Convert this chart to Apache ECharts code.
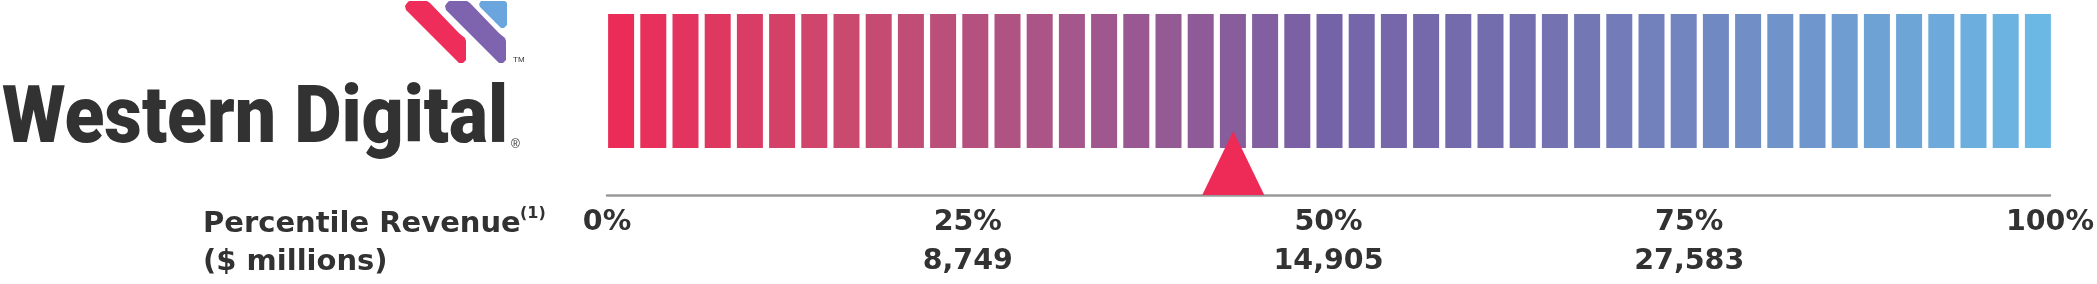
<!DOCTYPE html>
<html>
<head>
<meta charset="utf-8">
<script src="https://cdn.jsdelivr.net/npm/echarts@6/dist/echarts.min.js"></script>
<style>
html,body{margin:0;padding:0;background:#ffffff;}
#chart{width:2097px;height:284px;}
</style>
</head>
<body>
<div id="chart"></div>
<script>
// ---- data ----
const binLabels = ['1','2','3','4','5','6','7','8','9','10','11','12','13','14','15','16','17','18','19','20','21','22','23','24','25','26','27','28','29','30','31','32','33','34','35','36','37','38','39','40','41','42','43','44','45'];
const binValues = [1,1,1,1,1,1,1,1,1,1,1,1,1,1,1,1,1,1,1,1,1,1,1,1,1,1,1,1,1,1,1,1,1,1,1,1,1,1,1,1,1,1,1,1,1];
const tickPercents = [0, 25, 50, 75, 100];
const tickRevenue = ['', '8,749', '14,905', '27,583', ''];
const companyPercentile = [43.4];
const logoName = 'Western Digital';
const rowTitle = 'Percentile Revenue';
const rowNote = '(1)';
const rowUnit = '($ millions)';

// ---- styling helpers ----
const rampStops = [
  [0, '#EC2C58'], [0.16, '#CA496E'], [0.30, '#A95587'], [0.41, '#8E5B98'],
  [0.50, '#7563A8'], [0.65, '#7470AF'], [0.82, '#7093CA'], [1, '#6BB8E5']
];
function hex2rgb(h){return [parseInt(h.substr(1,2),16),parseInt(h.substr(3,2),16),parseInt(h.substr(5,2),16)];}
function rampColor(t){
  for (let k = 0; k < rampStops.length - 1; k++) {
    const a = rampStops[k], b = rampStops[k+1];
    if (t <= b[0]) {
      const f = (t - a[0]) / (b[0] - a[0]);
      const ca = hex2rgb(a[1]), cb = hex2rgb(b[1]);
      const c = ca.map((v, i) => Math.round(v + (cb[i] - v) * f));
      return 'rgb(' + c.join(',') + ')';
    }
  }
  return rampStops[rampStops.length-1][1];
}

const textColor = '#323232';
const labelFont = 'DejaVu Sans';

// measure logo text for horizontal fit
const cv = document.createElement('canvas').getContext('2d');
const logoFont = '900 80px Roboto';
cv.font = logoFont;
const logoW = cv.measureText(logoName).width;
const logoScale = 506 / logoW;

const chart = echarts.init(document.getElementById('chart'), null, {renderer: 'canvas'});

function shifted(pts, dx){return pts.map(p => [p[0] + dx, p[1]]);}
const pinkPts = [[407,3],[409,1],[427,1],[430,3],[455,29],[460,34],[465,38],[466,41],[466,60],[463,63],[459,63],[406,10],[405,6]];
const bluePts = [[481,1],[505,1],[507,3],[507,25],[504,28],[501,28],[480,7],[479,4]];

const option = {
  backgroundColor: '#ffffff',
  animation: false,
  grid: [
    {left: 605, top: 14, width: 1449, height: 134, containLabel: false},
    {left: 607, top: 131, width: 1444, height: 64, containLabel: false}
  ],
  xAxis: [
    {type: 'category', gridIndex: 0, data: binLabels, show: false, boundaryGap: true},
    {
      type: 'value', gridIndex: 1, min: 0, max: 100, interval: 25,
      axisLine: {show: true, lineStyle: {color: '#999999', width: 2.5}},
      axisTick: {show: false},
      splitLine: {show: false},
      axisLabel: {
        show: true, margin: 8,
        showMinLabel: true, showMaxLabel: true,
        color: textColor, fontFamily: labelFont, fontWeight: 'bold',
        fontSize: 28.5, lineHeight: 39, align: 'center',
        formatter: function (v) {
          const i = tickPercents.indexOf(v);
          if (i < 0) return '';
          return tickRevenue[i] ? v + '%\n' + tickRevenue[i] : v + '%';
        }
      }
    }
  ],
  yAxis: [
    {type: 'value', gridIndex: 0, min: 0, max: 1, show: false},
    {type: 'value', gridIndex: 1, min: 0, max: 1, show: false}
  ],
  series: [
    {
      type: 'bar', xAxisIndex: 0, yAxisIndex: 0, barWidth: 26,
      data: binValues.map((v, i) => ({value: v, itemStyle: {color: rampColor(i / (binValues.length - 1))}})),
      z: 2
    },
    {
      type: 'scatter', xAxisIndex: 1, yAxisIndex: 1, clip: false,
      symbol: 'triangle', symbolSize: [62, 64],
      itemStyle: {color: '#EE2A57', opacity: 1},
      data: companyPercentile.map(p => [p, 0.5]),
      z: 5
    }
  ],
  graphic: [
    {type: 'polygon', shape: {points: pinkPts}, style: {fill: '#EE2D5A'}},
    {type: 'polygon', shape: {points: shifted(pinkPts, 40)}, style: {fill: '#7E64AE'}},
    {type: 'polygon', shape: {points: bluePts}, style: {fill: '#6AA5DD'}},
    {type: 'text', x: 513, y: 60, style: {text: 'TM', font: '8px "Liberation Sans"', fill: textColor, textAlign: 'left', verticalAlign: 'middle', textVerticalAlign: 'middle'}},
    {type: 'text', x: 2, y: 122, scaleX: logoScale, scaleY: 1,
      style: {text: logoName, font: logoFont, fill: textColor, textAlign: 'left', verticalAlign: 'middle', textVerticalAlign: 'middle'}},
    {type: 'text', x: 511, y: 145, style: {text: '®', font: '12px "Liberation Sans"', fill: textColor, textAlign: 'left', verticalAlign: 'middle', textVerticalAlign: 'middle'}},
    {type: 'text', x: 203, y: 224, style: {text: rowTitle, font: 'bold 29px "DejaVu Sans"', fill: textColor, textAlign: 'left', verticalAlign: 'middle', textVerticalAlign: 'middle'}},
    {type: 'text', x: 520, y: 214, style: {text: rowNote, font: 'bold 16px "DejaVu Sans"', fill: textColor, textAlign: 'left', verticalAlign: 'middle', textVerticalAlign: 'middle'}},
    {type: 'text', x: 203, y: 262, style: {text: rowUnit, font: 'bold 29px "DejaVu Sans"', fill: textColor, textAlign: 'left', verticalAlign: 'middle', textVerticalAlign: 'middle'}}
  ]
};
chart.setOption(option);
</script>
</body>
</html>
